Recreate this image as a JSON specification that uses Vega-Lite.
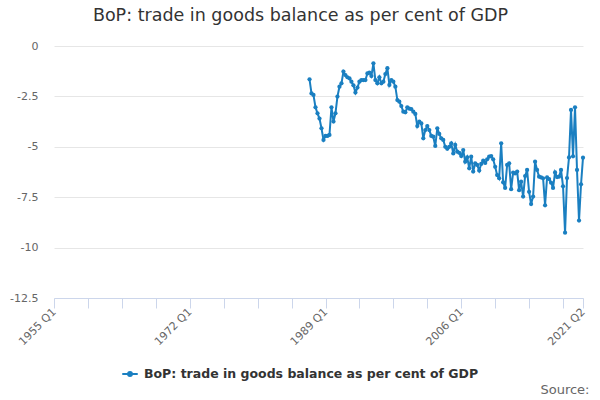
{
  "$schema": "https://vega.github.io/schema/vega-lite/v6.json",
  "width": 529,
  "height": 252,
  "autosize": {"type": "none"},
  "padding": {"left": 54, "top": 46, "right": 17, "bottom": 102},
  "background": "#ffffff",
  "title": {
    "text": "BoP: trade in goods balance as per cent of GDP",
    "anchor": "middle",
    "frame": "group",
    "dx": -18,
    "offset": 16,
    "font": "DejaVu Sans",
    "fontSize": 17.5,
    "fontWeight": "normal",
    "color": "#333333"
  },
  "config": {
    "view": {"stroke": null},
    "font": "DejaVu Sans"
  },
  "data": {
    "values": [
      {"date": "1987-01-01", "value": -1.65}, {"date": "1987-04-01", "value": -2.35}, {"date": "1987-07-01", "value": -2.43}, {"date": "1987-10-01", "value": -3.04},
      {"date": "1988-01-01", "value": -3.34}, {"date": "1988-04-01", "value": -3.6}, {"date": "1988-07-01", "value": -4.08}, {"date": "1988-10-01", "value": -4.66},
      {"date": "1989-01-01", "value": -4.46}, {"date": "1989-04-01", "value": -4.46}, {"date": "1989-07-01", "value": -4.41}, {"date": "1989-10-01", "value": -3.04},
      {"date": "1990-01-01", "value": -3.75}, {"date": "1990-04-01", "value": -3.34}, {"date": "1990-07-01", "value": -2.51}, {"date": "1990-10-01", "value": -2.02},
      {"date": "1991-01-01", "value": -1.85}, {"date": "1991-04-01", "value": -1.27}, {"date": "1991-07-01", "value": -1.44}, {"date": "1991-10-01", "value": -1.55},
      {"date": "1992-01-01", "value": -1.6}, {"date": "1992-04-01", "value": -1.77}, {"date": "1992-07-01", "value": -1.95}, {"date": "1992-10-01", "value": -2.31},
      {"date": "1993-01-01", "value": -2.06}, {"date": "1993-04-01", "value": -1.77}, {"date": "1993-07-01", "value": -1.69}, {"date": "1993-10-01", "value": -1.69},
      {"date": "1994-01-01", "value": -1.69}, {"date": "1994-04-01", "value": -1.36}, {"date": "1994-07-01", "value": -1.32}, {"date": "1994-10-01", "value": -1.49},
      {"date": "1995-01-01", "value": -0.86}, {"date": "1995-04-01", "value": -1.69}, {"date": "1995-07-01", "value": -1.85}, {"date": "1995-10-01", "value": -1.55},
      {"date": "1996-01-01", "value": -1.85}, {"date": "1996-04-01", "value": -1.77}, {"date": "1996-07-01", "value": -1.39}, {"date": "1996-10-01", "value": -1.1},
      {"date": "1997-01-01", "value": -1.93}, {"date": "1997-04-01", "value": -1.69}, {"date": "1997-07-01", "value": -1.77}, {"date": "1997-10-01", "value": -2.02},
      {"date": "1998-01-01", "value": -2.68}, {"date": "1998-04-01", "value": -2.76}, {"date": "1998-07-01", "value": -2.98}, {"date": "1998-10-01", "value": -3.26},
      {"date": "1999-01-01", "value": -3.29}, {"date": "1999-04-01", "value": -3.04}, {"date": "1999-07-01", "value": -3.11}, {"date": "1999-10-01", "value": -3.13},
      {"date": "2000-01-01", "value": -3.26}, {"date": "2000-04-01", "value": -3.37}, {"date": "2000-07-01", "value": -3.97}, {"date": "2000-10-01", "value": -3.75},
      {"date": "2001-01-01", "value": -3.84}, {"date": "2001-04-01", "value": -4.58}, {"date": "2001-07-01", "value": -4.17}, {"date": "2001-10-01", "value": -3.97},
      {"date": "2002-01-01", "value": -4.17}, {"date": "2002-04-01", "value": -4.46}, {"date": "2002-07-01", "value": -4.5}, {"date": "2002-10-01", "value": -4.96},
      {"date": "2003-01-01", "value": -4.08}, {"date": "2003-04-01", "value": -4.36}, {"date": "2003-07-01", "value": -4.58}, {"date": "2003-10-01", "value": -4.66},
      {"date": "2004-01-01", "value": -5.0}, {"date": "2004-04-01", "value": -5.1}, {"date": "2004-07-01", "value": -5.0}, {"date": "2004-10-01", "value": -4.83},
      {"date": "2005-01-01", "value": -5.33}, {"date": "2005-04-01", "value": -4.91}, {"date": "2005-07-01", "value": -5.24}, {"date": "2005-10-01", "value": -5.3},
      {"date": "2006-01-01", "value": -5.46}, {"date": "2006-04-01", "value": -5.16}, {"date": "2006-07-01", "value": -5.74}, {"date": "2006-10-01", "value": -5.52},
      {"date": "2007-01-01", "value": -6.07}, {"date": "2007-04-01", "value": -5.49}, {"date": "2007-07-01", "value": -6.23}, {"date": "2007-10-01", "value": -5.82},
      {"date": "2008-01-01", "value": -5.9}, {"date": "2008-04-01", "value": -6.18}, {"date": "2008-07-01", "value": -5.85}, {"date": "2008-10-01", "value": -5.69},
      {"date": "2009-01-01", "value": -5.8}, {"date": "2009-04-01", "value": -5.62}, {"date": "2009-07-01", "value": -5.49}, {"date": "2009-10-01", "value": -5.46},
      {"date": "2010-01-01", "value": -5.62}, {"date": "2010-04-01", "value": -5.99}, {"date": "2010-07-01", "value": -6.4}, {"date": "2010-10-01", "value": -6.56},
      {"date": "2011-01-01", "value": -4.83}, {"date": "2011-04-01", "value": -6.76}, {"date": "2011-07-01", "value": -7.04}, {"date": "2011-10-01", "value": -5.9},
      {"date": "2012-01-01", "value": -5.82}, {"date": "2012-04-01", "value": -7.1}, {"date": "2012-07-01", "value": -6.28}, {"date": "2012-10-01", "value": -6.32},
      {"date": "2013-01-01", "value": -6.23}, {"date": "2013-04-01", "value": -7.15}, {"date": "2013-07-01", "value": -6.73}, {"date": "2013-10-01", "value": -7.47},
      {"date": "2014-01-01", "value": -6.45}, {"date": "2014-04-01", "value": -6.15}, {"date": "2014-07-01", "value": -7.23}, {"date": "2014-10-01", "value": -7.84},
      {"date": "2015-01-01", "value": -7.47}, {"date": "2015-04-01", "value": -5.74}, {"date": "2015-07-01", "value": -6.15}, {"date": "2015-10-01", "value": -6.48},
      {"date": "2016-01-01", "value": -6.52}, {"date": "2016-04-01", "value": -6.56}, {"date": "2016-07-01", "value": -7.9}, {"date": "2016-10-01", "value": -6.52},
      {"date": "2017-01-01", "value": -6.6}, {"date": "2017-04-01", "value": -6.78}, {"date": "2017-07-01", "value": -7.04}, {"date": "2017-10-01", "value": -6.27},
      {"date": "2018-01-01", "value": -6.5}, {"date": "2018-04-01", "value": -6.48}, {"date": "2018-07-01", "value": -6.15}, {"date": "2018-10-01", "value": -6.96},
      {"date": "2019-01-01", "value": -9.26}, {"date": "2019-04-01", "value": -6.55}, {"date": "2019-07-01", "value": -5.53}, {"date": "2019-10-01", "value": -3.17},
      {"date": "2020-01-01", "value": -5.47}, {"date": "2020-04-01", "value": -3.04}, {"date": "2020-07-01", "value": -6.15}, {"date": "2020-10-01", "value": -8.66},
      {"date": "2021-01-01", "value": -6.86}, {"date": "2021-04-01", "value": -5.54}
    ]
  },
  "mark": {
    "type": "line",
    "strokeWidth": 2,
    "point": {"filled": true, "size": 18},
    "clip": false
  },
  "encoding": {
    "x": {
      "field": "date",
      "type": "temporal",
      "scale": {
        "type": "utc",
        "domain": [
          {"year": 1955, "month": 1, "date": 1, "utc": true},
          {"year": 2021, "month": 4, "date": 1, "utc": true}
        ],
        "nice": false
      },
      "axis": {
        "title": "Source:",
        "titleAnchor": "end",
        "titleAlign": "right",
        "titleBaseline": "alphabetic",
        "titleX": 535,
        "titleY": 95,
        "titleFont": "DejaVu Sans",
        "titleFontSize": 13,
        "titleFontWeight": "normal",
        "titleColor": "#666666",
        "values": [
          {"year": 1955, "month": 1, "date": 1, "utc": true},
          {"year": 1959, "month": 4, "date": 1, "utc": true},
          {"year": 1963, "month": 7, "date": 1, "utc": true},
          {"year": 1967, "month": 10, "date": 1, "utc": true},
          {"year": 1972, "month": 1, "date": 1, "utc": true},
          {"year": 1976, "month": 4, "date": 1, "utc": true},
          {"year": 1980, "month": 7, "date": 1, "utc": true},
          {"year": 1984, "month": 10, "date": 1, "utc": true},
          {"year": 1989, "month": 1, "date": 1, "utc": true},
          {"year": 1993, "month": 4, "date": 1, "utc": true},
          {"year": 1997, "month": 7, "date": 1, "utc": true},
          {"year": 2001, "month": 10, "date": 1, "utc": true},
          {"year": 2006, "month": 1, "date": 1, "utc": true},
          {"year": 2010, "month": 4, "date": 1, "utc": true},
          {"year": 2014, "month": 7, "date": 1, "utc": true},
          {"year": 2018, "month": 10, "date": 1, "utc": true},
          {"year": 2021, "month": 4, "date": 1, "utc": true}
        ],
        "labelExpr": "(utcmonth(datum.value) == 0 || utcyear(datum.value) == 2021) ? utcyear(datum.value) + ' Q' + (floor(utcmonth(datum.value) / 3) + 1) : ''",
        "labelAngle": -45,
        "labelAlign": "right",
        "labelBaseline": "middle",
        "labelFont": "DejaVu Sans",
        "labelFontSize": 11,
        "labelColor": "#666666",
        "labelPadding": 2,
        "labelOverlap": false,
        "labelBound": false,
        "labelFlush": false,
        "grid": false,
        "domainColor": "#ccd6eb",
        "domainWidth": 1,
        "tickColor": "#ccd6eb",
        "tickSize": 10,
        "tickWidth": 1
      }
    },
    "y": {
      "field": "value",
      "type": "quantitative",
      "scale": {"domain": [-12.5, 0], "nice": false, "zero": false},
      "axis": {
        "title": null,
        "values": [0, -2.5, -5, -7.5, -10, -12.5],
        "labelExpr": "toString(datum.value)",
        "labelFont": "DejaVu Sans",
        "labelFontSize": 11,
        "labelColor": "#666666",
        "labelPadding": 16,
        "domain": false,
        "ticks": false,
        "grid": true,
        "gridColor": "#e6e6e6",
        "gridWidth": 1
      }
    },
    "color": {
      "datum": "BoP: trade in goods balance as per cent of GDP",
      "type": "nominal",
      "scale": {"range": ["#1a7fc1"]},
      "legend": {
        "title": null,
        "orient": "none",
        "legendX": 67,
        "legendY": 319,
        "direction": "horizontal",
        "symbolType": "M-1,0L1,0M-0.25,0A0.25,0.25,0,1,1,0.25,0A0.25,0.25,0,1,1,-0.25,0Z",
        "symbolSize": 240,
        "symbolStrokeWidth": 2,
        "symbolStrokeColor": "#1a7fc1",
        "symbolFillColor": "#1a7fc1",
        "labelFont": "DejaVu Sans",
        "labelFontSize": 12.5,
        "labelFontWeight": "bold",
        "labelColor": "#333333",
        "labelOffset": 5,
        "labelLimit": 500
      }
    }
  }
}
